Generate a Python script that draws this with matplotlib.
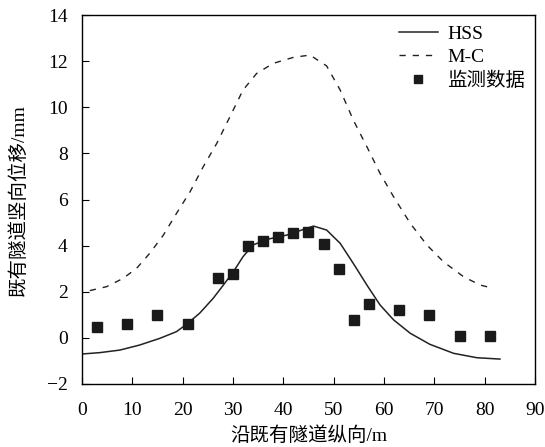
import matplotlib
matplotlib.use("Agg")
import matplotlib.pyplot as plt

plt.rcParams['font.family'] = ['Liberation Serif', 'Noto Sans CJK SC']

# HSS curve
hss_x = [0, 3.6, 7.55, 11.5, 15.5, 18.8, 20.8, 23.4, 26.1, 28.1, 30.1, 32.0, 34.0, 36.7,
         40.7, 44.6, 46.0, 48.6, 51.3, 53.9, 56.6, 59.2, 61.9, 65.2, 69.1, 73.8, 78.4, 83.0]
hss_y = [-0.70, -0.64, -0.53, -0.31, -0.02, 0.27, 0.59, 1.07, 1.72, 2.29, 2.87, 3.52, 4.03, 4.27,
         4.46, 4.75, 4.85, 4.68, 4.10, 3.23, 2.29, 1.43, 0.78, 0.20, -0.28, -0.67, -0.86, -0.92]

# M-C curve
mc_x = [1.6, 4.9, 8.2, 10.9, 13.5, 16.2, 18.8, 21.5, 24.1, 26.8, 29.4, 32.0, 34.7, 38.0,
        42.0, 45.3, 48.6, 51.3, 53.9, 56.6, 59.2, 61.9, 65.2, 68.5, 71.8, 75.8, 79.1, 81.7]
mc_y = [2.05, 2.22, 2.58, 3.02, 3.67, 4.46, 5.40, 6.34, 7.42, 8.44, 9.59, 10.75, 11.47, 11.91,
        12.17, 12.27, 11.80, 10.75, 9.45, 8.29, 7.14, 6.12, 4.97, 4.03, 3.30, 2.65, 2.29, 2.15]

# monitoring data
obs_x = [3, 9, 15, 21, 27, 30, 33, 36, 39, 42, 45, 48, 51, 54, 57, 63, 69, 75, 81]
obs_y = [0.47, 0.6, 1.0, 0.6, 2.6, 2.77, 3.98, 4.2, 4.37, 4.55, 4.6, 4.07, 3.0, 0.78, 1.47, 1.2, 1.0, 0.08, 0.08]

fig = plt.figure(figsize=(5.45, 4.47), dpi=100)
ax = fig.add_axes([0.150, 0.141, 0.832, 0.825])

ax.plot(hss_x, hss_y, color='#222222', lw=1.1, label='HSS')
ax.plot(mc_x, mc_y, color='#222222', lw=1.0, ls=(0, (4.5, 5)), label='M-C')
ax.plot(obs_x, obs_y, ls='none', marker='s', ms=6.5, color='#1a1a1a', label='监测数据')

ax.set_xlim(0, 90)
ax.set_ylim(-2, 14)
ax.set_xticks(range(0, 91, 10))
ax.set_yticks(range(-2, 15, 2))
ax.set_yticklabels(['\u22122'] + [str(v) for v in range(0, 15, 2)])
ax.tick_params(direction='in', labelsize=14, length=5)
ax.tick_params(axis='x', pad=13)
ax.tick_params(axis='y', pad=10)
ax.set_xlabel('沿既有隧道纵向/m', fontsize=14, labelpad=5)
ax.set_ylabel('既有隧道竖向位移/mm', fontsize=14, labelpad=14)
for s in ax.spines.values():
    s.set_linewidth(1.0)

ax.legend(loc='upper right', frameon=False, fontsize=14, handlelength=2.0,
          labelspacing=0.3, borderaxespad=0.2, handletextpad=0.5, markerscale=0.85,
          borderpad=0.3)

fig.savefig('out.png', dpi=100)
